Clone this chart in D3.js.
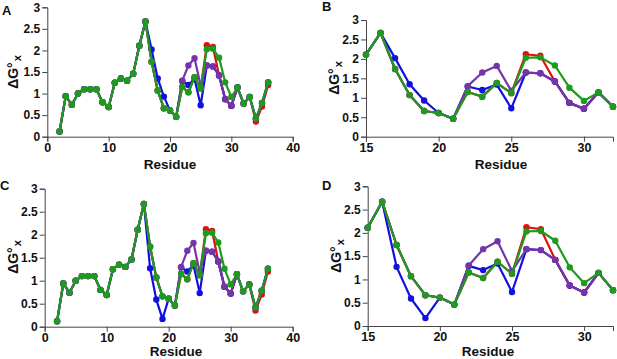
<!DOCTYPE html>
<html>
<head>
<meta charset="utf-8">
<script src="https://cdn.jsdelivr.net/npm/d3@7"></script>
<style>
  body { margin: 0; background: #fff; }
  svg { display: block; font-family: "Liberation Sans", Arial, sans-serif; }
</style>
</head>
<body>
<div id="chart"></div>
<script>
// Residue numbers
const residues = [2, 3, 4, 5, 6, 7, 8, 9, 10, 11, 12, 13, 14, 15, 16, 17, 18, 19, 20, 21,
  22, 23, 24, 25, 26, 27, 28, 29, 30, 31, 32, 33, 34, 35, 36];

// dG values per series
const greenVals = [0.12, 0.94, 0.74, 1.0, 1.1, 1.1, 1.1, 0.8, 0.69, 1.25, 1.35, 1.3, 1.46, 2.11, 2.67, 1.74, 1.07, 0.66, 0.61, 0.46,
  1.15, 1.03, 1.38, 1.12, 2.03, 2.04, 1.83, 1.26, 0.92, 1.14, 0.77, 0.92, 0.42, 0.78, 1.26];
const redVals = [0.12, 0.94, 0.74, 1.0, 1.1, 1.1, 1.1, 0.8, 0.69, 1.25, 1.35, 1.3, 1.46, 2.11, 2.67, 1.74, 1.07, 0.66, 0.61, 0.46,
  1.15, 1.03, 1.38, 1.12, 2.12, 2.08, 1.42, 0.87, 0.72, 1.14, 0.77, 0.92, 0.35, 0.7, 1.2];
const purpleVals = [0.12, 0.94, 0.74, 1.0, 1.1, 1.1, 1.1, 0.8, 0.69, 1.25, 1.35, 1.3, 1.46, 2.11, 2.67, 1.74, 1.07, 0.66, 0.61, 0.46,
  1.3, 1.65, 1.82, 1.18, 1.65, 1.63, 1.42, 0.87, 0.72, 1.14, 0.77, 0.92, 0.42, 0.78, 1.26];
// blue differs between top row (A, B) and bottom row (C, D)
const blueTopVals = [0.12, 0.94, 0.74, 1.0, 1.1, 1.1, 1.1, 0.8, 0.69, 1.25, 1.35, 1.3, 1.46, 2.11, 2.67, 2.02, 1.35, 0.93, 0.61, 0.46,
  1.29, 1.2, 1.34, 0.73, 1.65, 1.63, 1.42, 0.87, 0.72, 1.14, 0.77, 0.92, 0.42, 0.78, 1.26];
const blueBottomVals = [0.12, 0.94, 0.74, 1.0, 1.1, 1.1, 1.1, 0.8, 0.69, 1.25, 1.35, 1.3, 1.46, 2.11, 2.67, 1.27, 0.59, 0.17, 0.61, 0.46,
  1.29, 1.2, 1.34, 0.73, 1.65, 1.63, 1.42, 0.87, 0.72, 1.14, 0.77, 0.92, 0.42, 0.78, 1.26];

const yTicks = [0, 0.5, 1, 1.5, 2, 2.5, 3];
const xTicksFull = [0, 10, 20, 30, 40];
const xTicksZoom = [15, 20, 25, 30];

const colors = { red: '#e01010', blue: '#1010e0', purple: '#7535a8', green: '#1e9a1e' };

const width = 617, height = 359;

const panels = [
  { label: 'A', blue: blueTopVals, xDom: [0, 40], xTicks: xTicksFull, xr: [47.3, 292.7], yr: [136.7, 7.3],
    lab: [2, 15], yTitle: [13, 72], xTitle: [170, 169] },
  { label: 'B', blue: blueTopVals, xDom: [15, 32], xTicks: xTicksZoom, xr: [366, 613], yr: [136.7, 20],
    lab: [322, 11], yTitle: [334, 78], xTitle: [501, 168.5] },
  { label: 'C', blue: blueBottomVals, xDom: [0, 40], xTicks: xTicksFull, xr: [44.7, 292.7], yr: [326.7, 188.7],
    lab: [0, 190], yTitle: [13, 257], xTitle: [176, 356] },
  { label: 'D', blue: blueBottomVals, xDom: [15, 32], xTicks: xTicksZoom, xr: [367.7, 613], yr: [326, 186.3],
    lab: [322, 190], yTitle: [336, 256], xTitle: [488, 356] }
];

const svg = d3.select('#chart').append('svg')
  .attr('width', width)
  .attr('height', height);

panels.forEach(p => {
  const g = svg.append('g');

  const x = d3.scaleLinear().domain(p.xDom).range(p.xr);
  const y = d3.scaleLinear().domain([0, 3]).range(p.yr);

  // Series in draw order (green on top)
  const series = [
    { vals: redVals, color: colors.red },
    { vals: p.blue, color: colors.blue },
    { vals: purpleVals, color: colors.purple },
    { vals: greenVals, color: colors.green }
  ];

  // Y axis
  const yAxis = g.append('g')
    .attr('transform', `translate(${p.xr[0]},0)`)
    .call(d3.axisLeft(y).tickValues(yTicks).tickSize(5).tickPadding(2).tickFormat(d3.format('')));
  yAxis.selectAll('text')
    .attr('fill', '#111')
    .attr('font-size', '12px')
    .attr('font-weight', 'bold')
    .attr('font-family', '"Liberation Sans", Arial, sans-serif');
  yAxis.selectAll('line, path').attr('stroke', '#444').attr('stroke-width', 1);

  // X axis
  const xAxis = g.append('g')
    .attr('transform', `translate(0,${p.yr[0]})`)
    .call(d3.axisBottom(x).tickValues(p.xTicks).tickSize(5).tickPadding(1).tickFormat(d3.format('d')));
  xAxis.selectAll('text')
    .attr('fill', '#111')
    .attr('font-size', '12.5px')
    .attr('font-weight', 'bold')
    .attr('font-family', '"Liberation Sans", Arial, sans-serif');
  xAxis.selectAll('line, path').attr('stroke', '#444').attr('stroke-width', 1);

  const line = d3.line()
    .x(d => x(d.r))
    .y(d => y(d.v));

  series.forEach(s => {
    const pts = residues.map((r, i) => ({ r, v: s.vals[i] }))
      .filter(d => d.r >= p.xDom[0] && d.r <= p.xDom[1]);

    g.append('path')
      .datum(pts)
      .attr('fill', 'none')
      .attr('stroke', s.color)
      .attr('stroke-width', 2.2)
      .attr('stroke-linejoin', 'round')
      .attr('d', line);

    g.selectAll(null)
      .data(pts)
      .enter()
      .append('circle')
      .attr('cx', d => x(d.r))
      .attr('cy', d => y(d.v))
      .attr('r', 3.2)
      .attr('fill', s.color);
  });

  // Panel letter
  svg.append('text')
    .attr('x', p.lab[0])
    .attr('y', p.lab[1])
    .attr('font-size', '13px')
    .attr('font-weight', 'bold')
    .attr('fill', '#111')
    .text(p.label);

  // Y title: ΔG°x (x subscript)
  const yt = svg.append('text')
    .attr('transform', `translate(${p.yTitle[0]},${p.yTitle[1]}) rotate(-90)`)
    .attr('text-anchor', 'middle')
    .attr('dy', '0.35em')
    .attr('font-size', '14px')
    .attr('font-weight', 'bold')
    .attr('fill', '#111');
  yt.append('tspan').text('ΔG°');
  yt.append('tspan').attr('dy', 3).attr('font-size', '11px').attr('dx', 1).text('x');

  // X title
  svg.append('text')
    .attr('x', p.xTitle[0])
    .attr('y', p.xTitle[1])
    .attr('text-anchor', 'middle')
    .attr('font-size', '13.5px')
    .attr('font-weight', 'bold')
    .attr('fill', '#111')
    .text('Residue');
});
</script>
</body>
</html>
